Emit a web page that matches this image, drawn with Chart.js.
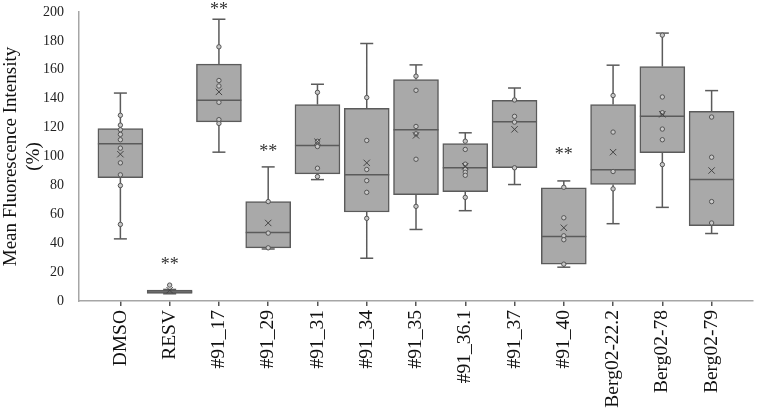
<!DOCTYPE html>
<html>
<head>
<meta charset="utf-8">
<script src="https://cdn.jsdelivr.net/npm/chart.js@4.4.1/dist/chart.umd.min.js"></script>
<style>
html,body{margin:0;padding:0;background:#fff;}
#wrap{width:760px;height:409px;position:relative;}
</style>
</head>
<body>
<div id="wrap"><canvas id="c" width="760" height="409"></canvas></div>
<script>
const categories = ['DMSO','RESV','#91_17','#91_29','#91_31','#91_34','#91_35','#91_36.1','#91_37','#91_40','Berg02-22.2','Berg02-78','Berg02-79'];
const whiskerMin = [43, 5, 103, 36, 84, 29.6, 49.5, 62.5, 80.6, 23.4, 53.5, 64.8, 46.7];
const q1 =         [85.4, 5.3, 124, 36.8, 88, 61.6, 73.6, 75.7, 92.2, 25.5, 80.6, 102.6, 52.1];
const median =     [108.8, 6.3, 138.9, 47.4, 107.6, 87.3, 118.5, 92.2, 124.1, 44.7, 90.8, 127.8, 84];
const q3 =         [119.4, 7.6, 163.9, 68.8, 135.9, 133.3, 153.3, 109, 138.9, 78.3, 135.9, 162.3, 131.3];
const whiskerMax = [143.9, 8, 195, 92.8, 150, 178.2, 163.4, 116.4, 147.4, 83.1, 163.2, 185.4, 145.6];
const means =      [101.6, 7.5, 144.7, 54, 110.2, 95.6, 114.6, 93.3, 118.8, 50.7, 103, 129.2, 90.3];
const dmsoPts = [128.5, 121.7, 118.5, 115.3, 111.6, 105.8, 95.6, 87.3, 79.9, 53];
const resvPts = [11];
const p91_17 = [175.9, 152.6, 148.8, 137.5, 125.5, 122.9];
const p91_29 = [68.8, 47, 36.8];
const p91_31 = [144.4, 110.5, 106.9, 91.9, 86.1];
const p91_34 = [140.8, 111.1, 91, 83.3, 75.2, 57.2];
const p91_35 = [155.6, 145.8, 120.8, 115.7, 98.1, 65.5];
const p91_361 = [110.6, 104.9, 94.7, 91, 89.1, 87, 71.7];
const p91_37 = [139.1, 127.8, 123.8, 92.2];
const p91_40 = [78.7, 57.6, 45.1, 42.4, 25.5];
const pBerg222 = [142.2, 116.9, 89.6, 77.6];
const pBerg78 = [184, 141.2, 130.3, 119, 111.6, 94.4];
const pBerg79 = [127.3, 99.5, 68.8, 54];
const innerPoints = [dmsoPts, resvPts, p91_17, p91_29, p91_31, p91_34, p91_35, p91_361, p91_37, p91_40, pBerg222, pBerg78, pBerg79];
const significance = [null, '**', '**', '**', null, null, null, null, null, '**', null, null, null];
const significanceY = [null, 27, 203, 105, null, null, null, null, null, 103, null, null, null];
const yTicks = [0, 20, 40, 60, 80, 100, 120, 140, 160, 180, 200];

const EDGE = '#5b5b5b';
const SERIF = "'Liberation Serif', 'Times New Roman', serif";

const whiskerData = [];
categories.forEach((c, i) => {
  whiskerData.push({x: i, y: whiskerMax[i]}, {x: i, y: q3[i]}, {x: i, y: null});
  whiskerData.push({x: i, y: q1[i]}, {x: i, y: whiskerMin[i]}, {x: i, y: null});
});
const capData = [];
categories.forEach((c, i) => { capData.push({x: i, y: whiskerMax[i]}, {x: i, y: whiskerMin[i]}); });
const pointData = [];
innerPoints.forEach((arr, i) => arr.forEach(v => pointData.push({x: i, y: v})));

const starPlugin = {
  id: 'stars',
  afterDatasetsDraw(chart) {
    const {ctx, scales: {x, y}} = chart;
    ctx.save();
    ctx.font = '18px ' + SERIF;
    ctx.fillStyle = '#333';
    ctx.textAlign = 'center';
    ctx.textBaseline = 'middle';
    significance.forEach((s, i) => {
      if (!s) return;
      ctx.fillText(s, x.getPixelForValue(i), y.getPixelForValue(significanceY[i]) + 3);
    });
    ctx.restore();
  }
};

new Chart(document.getElementById('c'), {
  type: 'bar',
  data: {
    datasets: [
      {
        type: 'bar',
        label: 'box',
        data: categories.map((c, i) => ({x: i, y: [q1[i], q3[i]]})),
        backgroundColor: '#a9a9a9',
        borderColor: EDGE,
        borderWidth: 1.5,
        borderSkipped: false,
        barThickness: 45,
        order: 4
      },
      {
        type: 'line',
        label: 'whiskers',
        data: whiskerData,
        borderColor: EDGE,
        borderWidth: 1.5,
        pointRadius: 0,
        spanGaps: false,
        fill: false,
        order: 5
      },
      {
        type: 'scatter',
        label: 'caps',
        data: capData,
        pointStyle: 'line',
        pointRadius: 6.5,
        borderColor: EDGE,
        borderWidth: 1.5,
        order: 3
      },
      {
        type: 'scatter',
        label: 'median',
        data: categories.map((c, i) => ({x: i, y: median[i]})),
        pointStyle: 'line',
        pointRadius: 22.5,
        borderColor: EDGE,
        borderWidth: 1.5,
        order: 3
      },
      {
        type: 'scatter',
        label: 'points',
        data: pointData,
        pointStyle: 'circle',
        pointRadius: 2.2,
        backgroundColor: '#c8c8c8',
        borderColor: '#555',
        borderWidth: 1,
        order: 2
      },
      {
        type: 'scatter',
        label: 'mean',
        data: categories.map((c, i) => ({x: i, y: means[i]})),
        pointStyle: 'crossRot',
        pointRadius: 4.5,
        borderColor: '#444',
        borderWidth: 1,
        order: 1
      }
    ]
  },
  options: {
    responsive: false,
    animation: false,
    events: [],
    layout: {autoPadding: false, padding: {top: 12, right: 7, left: 0, bottom: 0}},
    plugins: {legend: {display: false}, tooltip: {enabled: false}},
    scales: {
      x: {
        type: 'linear',
        min: -0.84,
        max: 12.84,
        offset: false,
        afterBuildTicks(scale) { scale.ticks = categories.map((c, i) => ({value: i})); },
        afterFit(scale) { scale.height = 108; scale.paddingLeft = 0; scale.paddingRight = 0; },
        grid: {display: true, drawOnChartArea: false, drawTicks: true, tickLength: 5, color: '#555', lineWidth: 1.5, offset: false},
        border: {display: true, color: '#a6a6a6', width: 1.5},
        ticks: {
          autoSkip: false,
          minRotation: 90,
          maxRotation: 90,
          padding: 4,
          color: '#111',
          font: {family: SERIF, size: 19.5},
          callback: (v) => categories[v]
        }
      },
      y: {
        min: 0,
        max: 200,
        afterBuildTicks(scale) { scale.ticks = yTicks.map(v => ({value: v})); },
        afterFit(scale) { scale.width = 79; scale.paddingTop = 0; scale.paddingBottom = 0; },
        grid: {display: false},
        border: {display: true, color: '#a6a6a6', width: 1.5},
        ticks: {color: '#222', padding: 7, font: {family: SERIF, size: 14}},
        title: {
          display: true,
          text: ['Mean Fluorescence Intensity', '(%)'],
          color: '#111',
          font: {family: SERIF, size: 19, lineHeight: 1.2},
          padding: {top: 0, bottom: 0}
        }
      }
    }
  },
  plugins: [starPlugin]
});
</script>
</body>
</html>
